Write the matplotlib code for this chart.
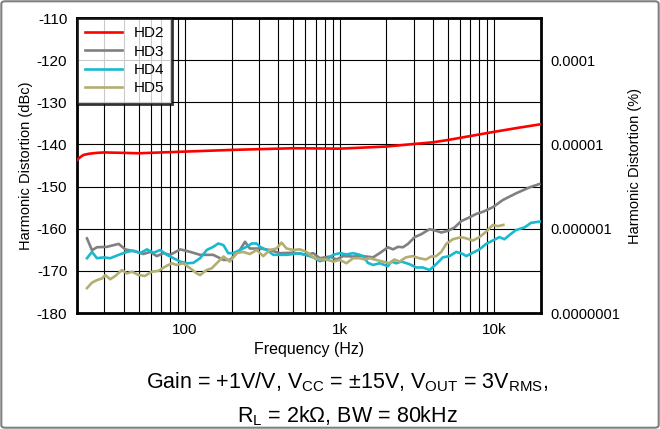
"""
Harmonic distortion vs frequency
"""
import numpy as np
import matplotlib
matplotlib.use("Agg")
import matplotlib.pyplot as plt
from matplotlib.patches import FancyBboxPatch

plt.rcParams['font.family'] = ['Liberation Sans', 'DejaVu Sans']
plt.rcParams['mathtext.fontset'] = 'custom'
plt.rcParams['mathtext.rm'] = 'Liberation Sans'
plt.rcParams['axes.unicode_minus'] = False

# HD2 (red)
hd2_f = [20, 21, 22, 24, 27, 30, 40, 50, 70, 100, 200, 500, 1000, 2000, 3000,
         4000, 5000, 7000, 10000, 14000, 20000]
hd2_db = [-143.7, -143.0, -142.5, -142.2, -142.0, -141.9, -142.0, -142.1, -141.9,
          -141.7, -141.3, -140.9, -141.0, -140.5, -139.9, -139.5, -138.95, -138.0,
          -137.0, -136.1, -135.2]

# HD3 (gray)
hd3_f = [23.2, 25, 26.9, 31.2, 37.2, 41, 48.8, 53.8, 59.4, 65.6, 72.5, 80, 93, 108,
         125, 152, 177, 195, 226, 244, 262, 305, 353, 410, 500, 610, 673, 743, 861,
         952, 1050, 1218, 1413, 1640, 1811, 2050, 2208, 2379, 2561, 2760, 3048,
         3365, 3808, 4205, 4530, 5000, 5522, 6098, 6900, 7620, 8413, 9756, 11320,
         13800, 16830, 19500]
hd3_db = [-162.3, -165.1, -164.4, -164.3, -163.6, -164.9, -165.5, -166.0, -165.5,
          -166.5, -165.8, -166.2, -164.9, -165.5, -166.2, -166.2, -167.4, -167.4,
          -165.05, -163.1, -164.7, -164.7, -165.05, -165.8, -165.7, -166.2, -165.8,
          -167.0, -166.6, -167.3, -166.5, -166.6, -166.5, -166.8, -165.8, -164.4,
          -164.9, -164.3, -164.4, -163.6, -162.0, -161.3, -160.1, -160.5, -160.9,
          -160.5, -159.7, -158.2, -157.3, -156.5, -156.0, -154.9, -153.2, -151.6,
          -150.2, -149.4]

# HD4 (cyan)
hd4_f = [23.2, 25, 26.9, 29.7, 32.8, 37.2, 42.1, 46.4, 51.3, 56.6, 62.5, 69, 76.2,
         84.1, 93, 102.5, 113, 125, 138, 152, 164, 177, 190, 205, 226, 250, 270,
         290, 305, 337, 372, 453, 552, 673, 743, 821, 907, 1000, 1105, 1218, 1345,
         1413, 1520, 1640, 1811, 2050, 2155, 2320, 2500, 2820, 3115, 3440, 3808,
         4205, 4640, 5125, 5660, 6250, 6570, 7250, 8000, 8840, 9756, 10770, 11600,
         12500, 13800, 15630, 17260, 19700]
hd4_db = [-167.0, -165.5, -167.0, -166.8, -167.0, -166.2, -165.5, -165.2, -165.8,
          -164.9, -165.7, -165.05, -166.2, -167.0, -167.8, -168.2, -168.1, -167.0,
          -165.05, -164.3, -163.5, -163.9, -165.8, -165.8, -165.05, -164.3, -163.5,
          -163.5, -164.3, -165.05, -166.2, -166.2, -165.8, -166.8, -167.7, -167.3,
          -166.2, -165.8, -166.1, -165.8, -166.2, -166.5, -168.1, -168.6, -168.2,
          -168.9, -167.8, -168.2, -167.8, -168.4, -169.2, -169.2, -169.8, -168.4,
          -166.8, -166.5, -165.5, -166.0, -166.5, -165.7, -164.9, -163.6, -162.8,
          -162.0, -162.5, -161.5, -160.3, -159.7, -158.6, -158.3]

# HD5 (olive)
hd5_f = [23.2, 25, 26.9, 29.0, 30.5, 32.8, 35.4, 39, 42.1, 45.3, 50, 55, 61, 67.3,
         74.3, 82, 88, 97.5, 108, 119, 125, 138, 148.6, 164, 177, 195, 215, 237,
         262, 290, 320, 353, 390, 420, 453, 500, 552, 610, 673, 743, 821, 907, 1000,
         1105, 1218, 1345, 1450, 1560, 1720, 1900, 2095, 2254, 2430, 2680, 2960,
         3267, 3606, 3890, 4205, 4530, 4880, 5380, 6098, 6570, 7250, 8000, 8840,
         9756, 10500, 11420]
hd5_db = [-174.1, -172.8, -172.2, -171.8, -171.0, -172.0, -171.2, -169.8, -170.6,
          -170.2, -171.0, -171.2, -170.2, -170.0, -169.0, -168.2, -168.6, -168.2,
          -169.4, -170.6, -171.0, -169.8, -169.4, -167.8, -166.6, -167.8, -165.8,
          -165.5, -166.0, -165.05, -166.5, -165.05, -164.7, -163.3, -164.7, -165.05,
          -164.9, -165.5, -166.8, -167.3, -167.3, -167.8, -167.4, -168.2, -167.0,
          -167.0, -167.3, -167.0, -167.4, -167.8, -168.2, -167.3, -167.8, -166.8,
          -166.5, -167.0, -167.3, -166.6, -166.5, -165.5, -163.6, -162.5, -162.0,
          -162.3, -162.8, -162.0, -160.7, -159.1, -159.4, -159.1]

y_ticks = [-180, -170, -160, -150, -140, -130, -120, -110]
pct_ticks = [-180, -160, -140, -120]
pct_labels = ['0.0000001', '0.000001', '0.00001', '0.0001']
x_ticks = [100, 1000, 10000]
x_labels = ['100', '1k', '10k']

fig = plt.figure(figsize=(6.6, 4.29), dpi=100)
ax = fig.add_axes([77/660, 1-313/429, 464/660, 295/429])

ax.plot(hd2_f, hd2_db, color='#FF0000', lw=1.9, label='HD2', zorder=5)
ax.plot(hd3_f, hd3_db, color='#808080', lw=1.9, label='HD3', zorder=4)
ax.plot(hd4_f, hd4_db, color='#19B9CF', lw=1.9, label='HD4', zorder=4)
ax.plot(hd5_f, hd5_db, color='#B3AE72', lw=1.9, label='HD5', zorder=4)

ax.set_xscale('log')
ax.set_xlim(20, 20000)
ax.set_ylim(-180, -110)
ax.set_yticks(y_ticks)
ax.set_xticks(x_ticks)
ax.set_xticklabels(x_labels)
ax.set_xticks([m*10**e for e in (1, 2, 3) for m in range(2, 10)], minor=True)
ax.xaxis.set_minor_formatter(plt.NullFormatter())
ax.grid(True, which='both', color='black', lw=0.8)
ax.tick_params(which='both', length=0, labelsize=11, pad=7)
for s in ax.spines.values():
    s.set_linewidth(2)
ax.set_xlabel('Frequency (Hz)', fontsize=11.5, labelpad=4)
ax.set_ylabel('Harmonic Distortion (dBc)', fontsize=10.5, labelpad=3)

leg = ax.legend(loc='upper left', fontsize=11, frameon=True, fancybox=False,
                borderaxespad=0, labelspacing=0.28, handlelength=2.4,
                handletextpad=0.75, borderpad=0.55)
leg.get_frame().set_edgecolor('black')
leg.get_frame().set_linewidth(2)
leg.set_zorder(10)

ax2 = ax.twinx()
ax2.set_ylim(-180, -110)
ax2.set_yticks(pct_ticks)
ax2.set_yticklabels(pct_labels)
ax2.tick_params(length=0, labelsize=10.5, pad=7)
ax2.set_ylabel('Harmonic Distortion (%)', fontsize=10.5, labelpad=5)
for s in ax2.spines.values():
    s.set_visible(False)

fig.text(0.526, 1-388/429, r'Gain = +1V/V, V$_{\mathregular{CC}}$ = ±15V, V$_{\mathregular{OUT}}$ = 3V$_{\mathregular{RMS}}$,',
         ha='center', va='baseline', fontsize=15.5)
fig.text(0.526, 1-422/429, r'R$_{\mathregular{L}}$ = 2kΩ, BW = 80kHz',
         ha='center', va='baseline', fontsize=15.5)

fig.patches.append(FancyBboxPatch((0.002, 0.003), 0.996, 0.994, boxstyle='round,pad=0,rounding_size=0.006',
                                  transform=fig.transFigure, fill=False, edgecolor='#808080', lw=1.5))

fig.savefig('out.png', dpi=100)
